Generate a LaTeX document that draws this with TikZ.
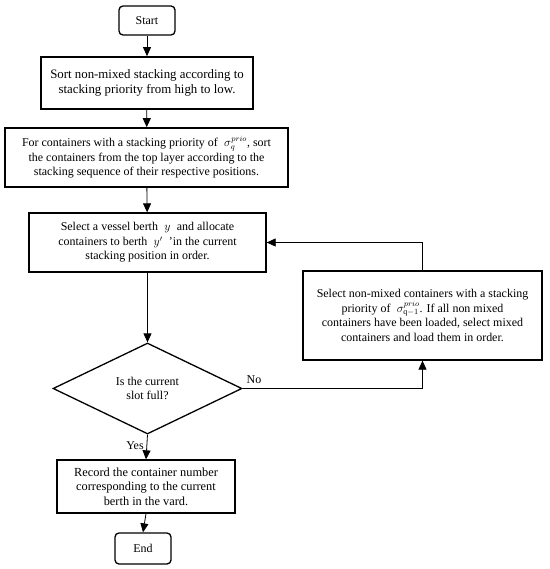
\documentclass[tikz,border=0pt]{standalone}
\usepackage{fontspec}
\setmainfont{Liberation Serif}
\usetikzlibrary{shapes.geometric,arrows.meta}
\begin{document}
\begin{tikzpicture}[x=1bp,y=-1bp,
  txt/.style={font=\fontsize{12}{14.5}\selectfont},
  box/.style={txt,draw,line width=1.3bp,align=center,inner sep=0pt},
  term/.style={box,rounded corners=4bp},
  dec/.style={txt,draw,diamond,line width=1.3bp,align=center,inner sep=0pt},
  arr/.style={line width=0.8bp,-{Triangle[length=9bp,width=8bp]}}]
\useasboundingbox (0,0) rectangle (550,569);
\node[term,minimum width=56bp,minimum height=29bp] (start) at (147,20.5) {Start};
\node[box,line width=1.7bp,minimum width=212bp,minimum height=52bp,font=\fontsize{12.9}{14.5}\selectfont] (b1) at (147,83) {Sort non-mixed stacking according to\\stacking priority from high to low.};
\node[box,line width=1.6bp,minimum width=283bp,minimum height=59bp] (b2) at (146.5,157.5) {For containers with a stacking priority of $\;\sigma_{q}^{prio}$, sort\\[1bp]the containers from the top layer according to the\\stacking sequence of their respective positions.};
\node[box,minimum width=237bp,minimum height=59bp] (b3) at (147.5,242.5) {Select a vessel berth $\;y\;$ and allocate\\containers to berth $\;y'\;$ 'in the current\\stacking position in order.};
\node[box,minimum width=239bp,minimum height=89bp] (b4) at (422.5,315.5) {Select non-mixed containers with a stacking\\priority of $\;\sigma_{\mathrm{q}-1}^{prio}$. If all non mixed\\containers have been loaded, select mixed\\containers and load them in order.};
\node[dec,minimum width=189bp,minimum height=91bp] (d) at (147.5,388.5) {Is the current\\slot full?};
\node[box,minimum width=178bp,minimum height=53bp,font=\fontsize{12.4}{14.5}\selectfont] (b5) at (146,486.5) {Record the container number\\corresponding to the current\\berth in the vard.};
\node[term,minimum width=56bp,minimum height=31bp] (end) at (143,548.5) {End};
\node[txt] (no) at (254,380) {No};
\node[txt] (yes) at (135,446) {Yes};
\draw[arr] (start) -- (b1);
\draw[arr] (b1) -- (b2);
\draw[arr] (b2) -- (b3);
\draw[arr] (b3) -- (d);
\draw[arr] (d.south) -- (b5.north);
\draw[arr] (b5.south) -- (end.north);
\draw[arr] (d.east) -| (b4.south);
\draw[arr] (b4.north) |- (b3.east);
\end{tikzpicture}
\end{document}
